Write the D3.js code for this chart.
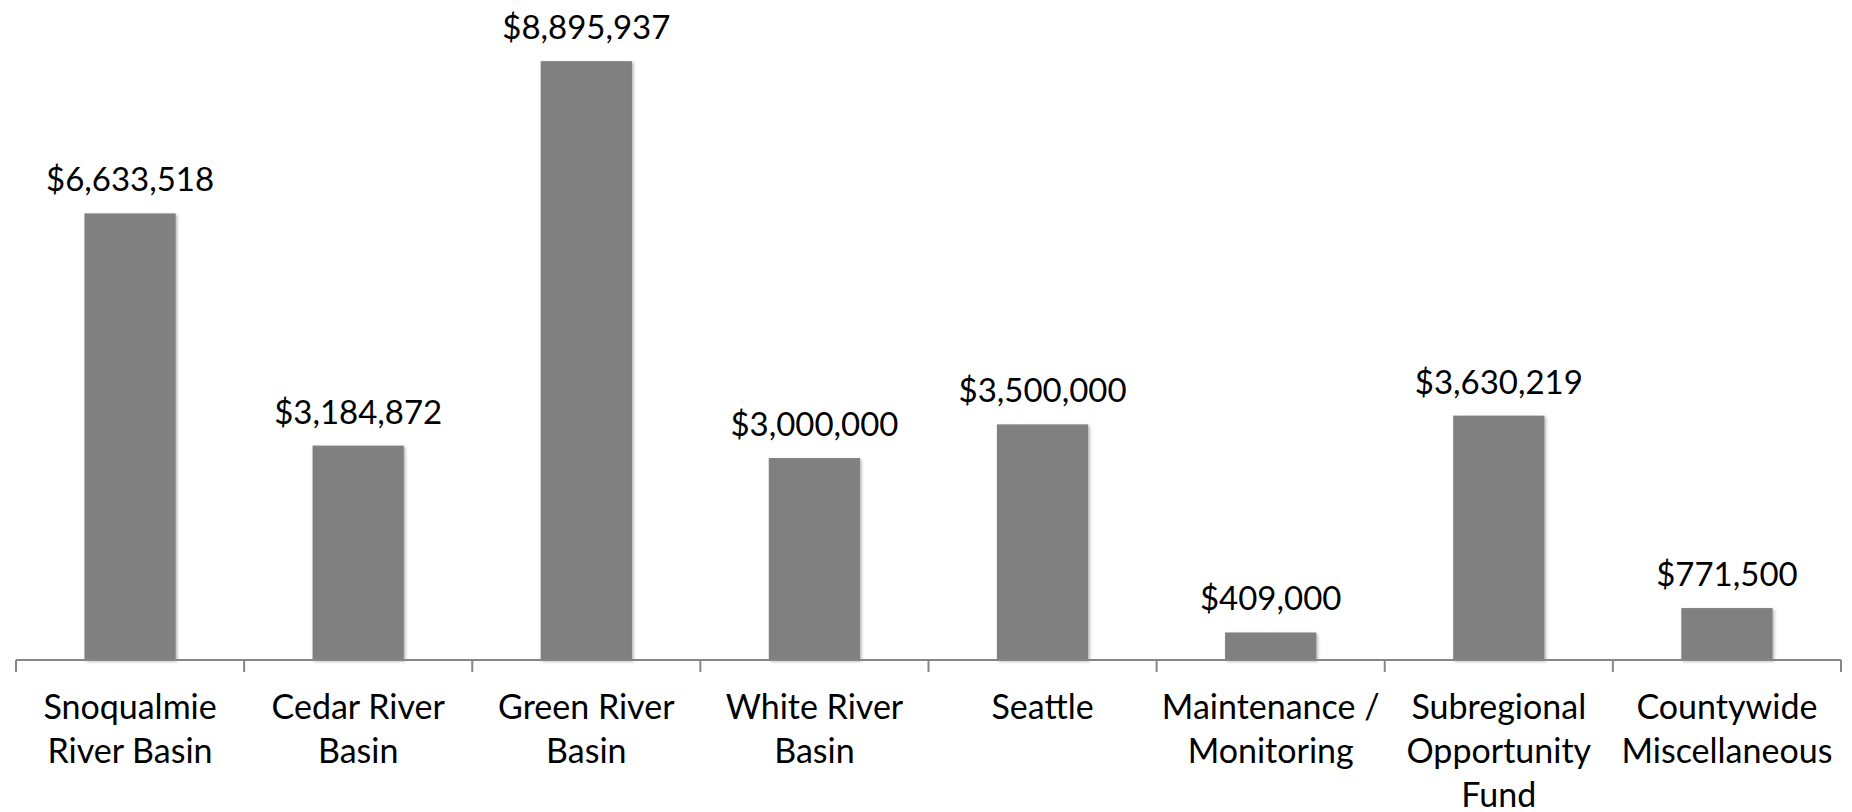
<!DOCTYPE html>
<html>
<head>
<meta charset="utf-8">
<script src="https://cdn.jsdelivr.net/npm/d3@7"></script>
<style>
  html, body { margin: 0; padding: 0; background: #ffffff; }
  svg { display: block; }
  text { font-family: Lato, "Open Sans", sans-serif; fill: #000; }
</style>
</head>
<body>
<svg id="chart" width="1852" height="812"></svg>
<script>
const categories = [
  "Snoqualmie\nRiver Basin",
  "Cedar River\nBasin",
  "Green River\nBasin",
  "White River\nBasin",
  "Seattle",
  "Maintenance /\nMonitoring",
  "Subregional\nOpportunity\nFund",
  "Countywide\nMiscellaneous"
];
const values = [6633518, 3184872, 8895937, 3000000, 3500000, 409000, 3630219, 771500];
const valueLabels = ["$6,633,518", "$3,184,872", "$8,895,937", "$3,000,000", "$3,500,000", "$409,000", "$3,630,219", "$771,500"];

const svg = d3.select("#chart");
const left = 16, right = 1841, baseline = 660;

const x = d3.scaleBand().domain(categories).range([left, right]).padding(0);
const y = d3.scaleLinear().domain([0, 10000000]).range([baseline, baseline - 673.2]);
const barW = x.bandwidth() * 0.4;

const defs = svg.append("defs");
const f = defs.append("filter").attr("id", "shadow").attr("x", "-10%").attr("y", "-10%").attr("width", "130%").attr("height", "130%");
f.append("feDropShadow").attr("dx", 1.5).attr("dy", 1.5).attr("stdDeviation", 1.5)
  .attr("flood-color", "#000").attr("flood-opacity", 0.3);

svg.append("g").selectAll("rect")
  .data(values)
  .join("rect")
  .attr("x", (d, i) => x(categories[i]) + (x.bandwidth() - barW) / 2)
  .attr("y", d => y(d))
  .attr("width", barW)
  .attr("height", d => baseline - y(d))
  .attr("fill", "#808080")
  .attr("filter", "url(#shadow)");

// axis line and ticks
const axisG = svg.append("g").attr("transform", `translate(0,${baseline})`);
const axis = d3.axisBottom(x).tickSize(0).tickFormat("");
axisG.call(axis);
axisG.select(".domain").attr("stroke", "#868686").attr("stroke-width", 2)
  .attr("d", `M${left},0H${right}`);
axisG.selectAll(".tick").remove();
const tickPos = categories.map(c => x(c)).concat([right]);
axisG.selectAll("line.t").data(tickPos).join("line")
  .attr("class", "t")
  .attr("x1", d => d).attr("x2", d => d)
  .attr("y1", 0).attr("y2", 12)
  .attr("stroke", "#868686").attr("stroke-width", 2);

// value labels
svg.append("g").selectAll("text")
  .data(values)
  .join("text")
  .attr("x", (d, i) => x(categories[i]) + x.bandwidth() / 2)
  .attr("y", d => y(d) - 22)
  .attr("text-anchor", "middle")
  .attr("font-size", 33)
  .text((d, i) => valueLabels[i]);

// category labels
const catG = svg.append("g").selectAll("text")
  .data(categories)
  .join("text")
  .attr("x", d => x(d) + x.bandwidth() / 2)
  .attr("y", 719)
  .attr("text-anchor", "middle")
  .attr("font-size", 34);
catG.each(function(d) {
  const t = d3.select(this);
  const cx = x(d) + x.bandwidth() / 2;
  d.split("\n").forEach((line, j) => {
    t.append("tspan").attr("x", cx).attr("y", 719 + j * 44).text(line);
  });
});
</script>
</body>
</html>
